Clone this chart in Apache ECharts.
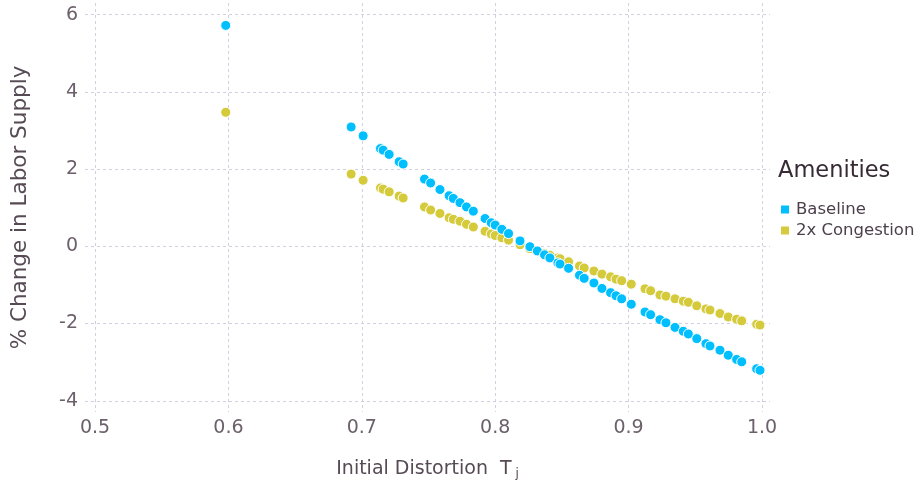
<!DOCTYPE html>
<html lang="en">
<head>
    <meta charset="UTF-8">
    <title>Labor supply vs initial distortion</title>
    <style type="text/css">
        html,
        body,
        .canvas {
            padding: 0;
            margin: 0;
            background-color: #ffffff;
            width: 919px;
            height: 484px;
        }
    </style>
</head>
<body>
<div class="canvas" id="chart"></div>
<script type="text/javascript" src="https://cdn.jsdelivr.net/npm/echarts@6/dist/echarts.min.js"></script>
<script>
    // initial distortion of each location (shared by both series)
    const distortion = [
        0.598, 0.692, 0.701, 0.714, 0.716, 0.7205, 0.728, 0.731, 0.747, 0.7516,
        0.7586, 0.7655, 0.7686, 0.7736, 0.7785, 0.7836, 0.7924, 0.797, 0.800, 0.805,
        0.810, 0.8186, 0.826, 0.8316, 0.837, 0.841, 0.847, 0.8486, 0.855, 0.8632,
        0.8667, 0.874, 0.880, 0.8865, 0.8906, 0.8948, 0.902, 0.9123, 0.9165, 0.9235,
        0.928, 0.9348, 0.941, 0.9448, 0.9511, 0.958, 0.961, 0.9685, 0.9747, 0.981,
        0.9848, 0.996, 0.9985
    ];
    const baseline = [
        5.72, 3.09, 2.86, 2.53, 2.49, 2.38, 2.19, 2.13, 1.74, 1.64,
        1.47, 1.31, 1.24, 1.13, 1.02, 0.91, 0.72, 0.61, 0.55, 0.44,
        0.33, 0.14, -0.01, -0.12, -0.22, -0.30, -0.43, -0.46, -0.57, -0.75,
        -0.83, -0.95, -1.09, -1.20, -1.28, -1.36, -1.50, -1.70, -1.77, -1.90,
        -1.98, -2.10, -2.20, -2.27, -2.39, -2.52, -2.58, -2.69, -2.82, -2.93,
        -2.99, -3.17, -3.21
    ];
    const congestion = [
        3.47, 1.87, 1.71, 1.51, 1.48, 1.41, 1.30, 1.25, 1.02, 0.94,
        0.85, 0.74, 0.70, 0.65, 0.57, 0.50, 0.39, 0.32, 0.28, 0.22,
        0.16, 0.04, -0.06, -0.13, -0.19, -0.23, -0.30, -0.32, -0.40, -0.51,
        -0.56, -0.64, -0.72, -0.79, -0.85, -0.89, -0.98, -1.10, -1.15, -1.26,
        -1.29, -1.36, -1.42, -1.45, -1.54, -1.62, -1.65, -1.74, -1.83, -1.89,
        -1.93, -2.02, -2.04
    ];
    const xTicks = [0.5, 0.6, 0.7, 0.8, 0.9, 1.0];
    const yTicks = [-4, -2, 0, 2, 4, 6];

    const font = 'DejaVu Sans';
    const gridLine = {show: true, lineStyle: {color: '#d0d0e0', width: 1, type: [3, 3]}};

    function pairs(ys) {
        return distortion.map(function (x, i) {
            return [x, ys[i]];
        });
    }

    function scatter(name, color, ys) {
        return {
            name: name,
            type: 'scatter',
            symbolSize: 10,
            itemStyle: {color: color, borderColor: '#ffffff', borderWidth: 1, opacity: 1},
            data: pairs(ys)
        };
    }

    const chart = echarts.init(document.getElementById('chart'), null, {renderer: 'canvas'});
    chart.setOption({
        animation: false,
        backgroundColor: '#ffffff',
        title: {
            text: 'Amenities',
            left: 773,
            top: 155,
            textStyle: {fontFamily: font, fontSize: 22.5, fontWeight: 'normal', color: '#362a35'}
        },
        legend: {
            orient: 'vertical',
            left: 776,
            top: 196,
            icon: 'rect',
            itemWidth: 8,
            itemHeight: 8,
            itemGap: 4,
            itemStyle: {borderWidth: 0},
            textStyle: {fontFamily: font, fontSize: 16.5, color: '#4c404b', padding: [0, 0, 0, 2]},
            data: ['Baseline', '2x Congestion']
        },
        grid: {left: 85, right: 149, top: 3, bottom: 72, containLabel: false, outerBoundsMode: 'none'},
        xAxis: {
            type: 'value',
            min: 0.4925,
            max: 1.006,
            axisLine: {show: false},
            axisTick: {show: false, customValues: xTicks},
            axisLabel: {
                customValues: xTicks,
                margin: 7,
                fontFamily: font,
                fontSize: 19,
                color: '#6c606b',
                formatter: function (v) { return v.toFixed(1); }
            },
            splitLine: gridLine,
            name: '{a|Initial Distortion  T}{b| j}',
            nameLocation: 'middle',
            nameGap: 47,
            nameTextStyle: {
                rich: {
                    a: {fontFamily: font, fontSize: 19, color: '#564a55'},
                    b: {fontFamily: font, fontSize: 12, color: '#564a55', padding: [9, 0, 0, 0]}
                }
            }
        },
        yAxis: {
            type: 'value',
            min: -4.29,
            max: 6.3,
            axisLine: {show: false},
            axisTick: {show: false, customValues: yTicks},
            axisLabel: {
                customValues: yTicks,
                margin: 7,
                fontFamily: font,
                fontSize: 19,
                color: '#6c606b'
            },
            splitLine: gridLine,
            name: '% Change in Labor Supply',
            nameLocation: 'middle',
            nameGap: 54,
            nameTextStyle: {fontFamily: font, fontSize: 21.5, color: '#564a55'}
        },
        // congestion first so the baseline dots sit on top where the two cross
        series: [
            scatter('2x Congestion', '#d4ca3a', congestion),
            scatter('Baseline', '#00bfff', baseline)
        ]
    });
</script>
</body>
</html>
